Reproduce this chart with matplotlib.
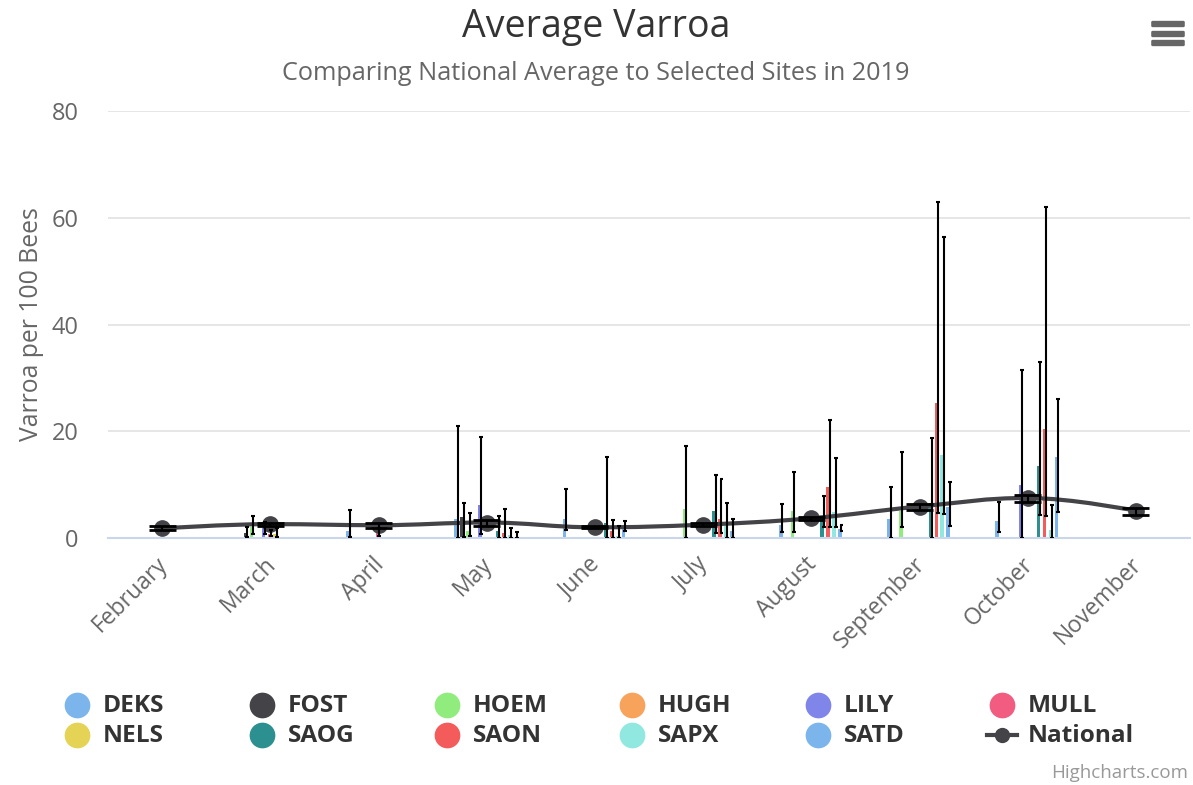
import numpy as np
import matplotlib
matplotlib.use("Agg")
import matplotlib.pyplot as plt
from matplotlib.path import Path
from matplotlib.patches import PathPatch, FancyBboxPatch
from matplotlib.lines import Line2D
from matplotlib.transforms import blended_transform_factory

plt.rcParams['font.family'] = ['Open Sans', 'DejaVu Sans']

nan = np.nan

months = ["February", "March", "April", "May", "June", "July",
          "August", "September", "October", "November"]
sites = ["DEKS", "FOST", "HOEM", "HUGH", "LILY", "MULL",
         "NELS", "SAOG", "SAON", "SAPX", "SATD"]
site_colors = ["#7cb5ec", "#434348", "#90ed7d", "#f7a35c", "#8085e9", "#f15c80",
               "#e4d354", "#2b908f", "#f45b5b", "#91e8e1", "#7cb5ec"]

# per site: average, lower and upper end of the error bar, one value per month
DEKS_avg = [nan, nan, 1.3, 3.6, 3.5, nan, 2.4, 3.6, 3.2, nan]
DEKS_lo = [nan, nan, 0.2, 0.0, 1.5, nan, 1.2, 0.0, 1.1, nan]
DEKS_hi = [nan, nan, 5.2, 21.0, 9.1, nan, 6.4, 9.5, 6.8, nan]

FOST_avg = [nan, 0.9, nan, 4.0, nan, nan, nan, nan, nan, nan]
FOST_lo = [nan, 0.25, nan, 0.25, nan, nan, nan, nan, nan, nan]
FOST_hi = [nan, 2.0, nan, 6.5, nan, nan, nan, nan, nan, nan]

HOEM_avg = [nan, 2.0, nan, 1.3, nan, 5.4, 5.0, 5.0, nan, nan]
HOEM_lo = [nan, 0.7, nan, 0.4, nan, 0.0, 1.2, 2.1, nan, nan]
HOEM_hi = [nan, 4.2, nan, 4.6, nan, 17.3, 12.4, 16.2, nan, nan]

HUGH_avg = [nan] * 10
HUGH_lo = [nan] * 10
HUGH_hi = [nan] * 10

LILY_avg = [nan, 1.8, nan, 6.2, nan, nan, nan, nan, 9.9, nan]
LILY_lo = [nan, 0.8, nan, 0.7, nan, nan, nan, nan, 0.0, nan]
LILY_hi = [nan, 3.0, nan, 18.9, nan, nan, nan, nan, 31.5, nan]

MULL_avg = [nan, 0.7, 1.0, nan, nan, nan, nan, nan, nan, nan]
MULL_lo = [nan, 0.3, 0.3, nan, nan, nan, nan, nan, nan, nan]
MULL_hi = [nan, 1.5, 1.8, nan, nan, nan, nan, nan, nan, nan]

NELS_avg = [nan, 0.7, nan, nan, nan, nan, nan, nan, nan, nan]
NELS_lo = [nan, 0.2, nan, nan, nan, nan, nan, nan, nan, nan]
NELS_hi = [nan, 1.9, nan, nan, nan, nan, nan, nan, nan, nan]

SAOG_avg = [nan, nan, nan, 1.3, 2.75, 5.1, 3.8, 6.5, 13.4, nan]
SAOG_lo = [nan, nan, nan, 0.0, 0.0, 0.9, 2.1, 0.0, 4.4, nan]
SAOG_hi = [nan, nan, nan, 4.2, 15.1, 11.8, 7.9, 18.8, 33.0, nan]

SAON_avg = [nan, nan, nan, 1.0, 1.3, 3.6, 9.6, 25.2, 20.4, nan]
SAON_lo = [nan, nan, nan, 0.0, 0.0, 0.9, 2.1, 4.7, 4.2, nan]
SAON_hi = [nan, nan, nan, 5.4, 3.4, 11.0, 22.1, 63.0, 62.0, nan]

SAPX_avg = [nan, nan, nan, 0.6, 0.3, 2.25, 4.9, 15.5, 1.5, nan]
SAPX_lo = [nan, nan, nan, 0.0, 0.0, 0.0, 2.1, 4.5, 0.0, nan]
SAPX_hi = [nan, nan, nan, 1.9, 2.3, 6.5, 15.0, 56.3, 6.2, nan]

SATD_avg = [nan, nan, nan, 0.2, 1.8, 1.4, 1.6, 5.9, 15.2, nan]
SATD_lo = [nan, nan, nan, 0.0, 1.4, 0.0, 1.4, 2.3, 4.9, nan]
SATD_hi = [nan, nan, nan, 1.2, 3.1, 3.5, 2.4, 10.5, 26.0, nan]

national_avg = [1.8, 2.6, 2.4, 2.9, 2.0, 2.5, 3.7, 5.9, 7.5, 5.1]
national_lo = [1.5, 2.2, 1.9, 2.3, 1.8, 2.2, 3.4, 5.2, 6.8, 4.3]
national_hi = [2.2, 2.9, 2.75, 3.3, 2.3, 2.8, 4.0, 6.3, 8.1, 5.7]

site_avg = [DEKS_avg, FOST_avg, HOEM_avg, HUGH_avg, LILY_avg, MULL_avg,
            NELS_avg, SAOG_avg, SAON_avg, SAPX_avg, SATD_avg]
site_lo = [DEKS_lo, FOST_lo, HOEM_lo, HUGH_lo, LILY_lo, MULL_lo,
           NELS_lo, SAOG_lo, SAON_lo, SAPX_lo, SATD_lo]
site_hi = [DEKS_hi, FOST_hi, HOEM_hi, HUGH_hi, LILY_hi, MULL_hi,
           NELS_hi, SAOG_hi, SAON_hi, SAPX_hi, SATD_hi]

W, H = 1193, 785
NAT_COLOR = "#434348"


def fx(px):
    return px / W


def fy(py):
    return 1 - py / H


def spline_path(xs, ys, smoothing=1.5):
    """highcharts style spline through the points, as bezier segments"""
    denom = smoothing + 1
    n = len(xs)
    right = [None] * n
    verts = [(xs[0], ys[0])]
    codes = [Path.MOVETO]
    for i in range(1, n):
        px, py = xs[i], ys[i]
        lx, ly = xs[i - 1], ys[i - 1]
        if i < n - 1:
            nx, ny = xs[i + 1], ys[i + 1]
            lcx = (smoothing * px + lx) / denom
            lcy = (smoothing * py + ly) / denom
            rcx = (smoothing * px + nx) / denom
            rcy = (smoothing * py + ny) / denom
            corr = ((rcy - lcy) * (rcx - px)) / (rcx - lcx) + py - rcy
            lcy += corr
            rcy += corr
            if lcy > ly and lcy > py:
                lcy = max(ly, py)
                rcy = 2 * py - lcy
            elif lcy < ly and lcy < py:
                lcy = min(ly, py)
                rcy = 2 * py - lcy
            if rcy > ny and rcy > py:
                rcy = max(ny, py)
                lcy = 2 * py - rcy
            elif rcy < ny and rcy < py:
                rcy = min(ny, py)
                lcy = 2 * py - rcy
            right[i] = (rcx, rcy)
        else:
            lcx, lcy = px, py
        c1 = right[i - 1] if right[i - 1] is not None else (lx, ly)
        verts += [c1, (lcx, lcy), (px, py)]
        codes += [Path.CURVE4] * 3
    return Path(verts, codes)


fig = plt.figure(figsize=(W / 100, H / 100), dpi=100)
ax = fig.add_axes([fx(108), fy(538), fx(1190 - 108), (538 - 111) / H])

ax.set_xlim(-0.5, 9.5)
ax.set_ylim(0, 80)
ax.set_yticks([0, 20, 40, 60, 80])
ax.grid(axis='y', color='#e6e6e6', lw=1.4)
ax.set_axisbelow(True)
for s in ['top', 'right', 'left']:
    ax.spines[s].set_visible(False)
ax.spines['bottom'].set_color('#ccd6eb')
ax.spines['bottom'].set_linewidth(1.5)
ax.tick_params(axis='y', length=0, pad=21, labelsize=17, labelcolor='#666666')
ax.set_xticks([])

# month labels, rotated
lab_tr = blended_transform_factory(ax.transData, fig.transFigure)
for i, m in enumerate(months):
    ax.text(i + 0.02, fy(561), m, transform=lab_tr, rotation=45, rotation_mode='anchor',
            ha='right', va='center', fontsize=16.5, color='#666666', clip_on=False)

# site columns with error bars
xs = np.arange(len(months))
slot = 0.6 / len(sites)
cap = 0.018
for i, name in enumerate(sites):
    off = -0.3 + (i + 0.5) * slot
    vals = np.array(site_avg[i], dtype=float)
    lo = np.array(site_lo[i], dtype=float)
    hi = np.array(site_hi[i], dtype=float)
    ok = ~np.isnan(vals)
    if not ok.any():
        continue
    ax.bar(xs[ok] + off - 0.009, vals[ok], width=0.032, color=site_colors[i], zorder=2)
    ex = xs[ok] + off + 0.006
    ax.vlines(ex, lo[ok], hi[ok], color='black', lw=1.5, zorder=5)
    ax.hlines(lo[ok], ex - cap, ex + cap, color='black', lw=1.5, zorder=5)
    ax.hlines(hi[ok], ex - cap, ex + cap, color='black', lw=1.5, zorder=5)

# national average spline
nat = np.array(national_avg, dtype=float)
ax.add_patch(PathPatch(spline_path(xs.astype(float), nat), fill=False,
                       edgecolor=NAT_COLOR, lw=3, zorder=3, capstyle='round'))
ax.plot(xs, nat, 'o', ms=11, color=NAT_COLOR, zorder=4)
ax.vlines(xs, national_lo, national_hi, color='black', lw=1.5, zorder=6)
ax.hlines(national_lo, xs - 0.125, xs + 0.125, color='black', lw=2, zorder=6)
ax.hlines(national_hi, xs - 0.125, xs + 0.125, color='black', lw=2, zorder=6)

# titles
fig.text(fx(596), fy(27), "Average Varroa", ha='center', va='center',
         fontsize=27, color='#333333')
fig.text(fx(596), fy(73), "Comparing National Average to Selected Sites in 2019",
         ha='center', va='center', fontsize=18.2, color='#666666')
fig.text(fx(32), fy(324), "Varroa per 100 Bees", rotation=90, ha='center',
         va='center', fontsize=17.8, color='#666666')
fig.text(fx(1188), fy(773), "Highcharts.com", ha='right', va='center',
         fontsize=13.5, color='#999999')

# menu button
for yy in [24, 34, 43]:
    fig.add_artist(FancyBboxPatch((fx(1153), fy(yy + 2)), fx(30), 4 / H,
                                  boxstyle="round,pad=0.0015", transform=fig.transFigure,
                                  facecolor='#666666', edgecolor='none'))

# legend
col_x = [77, 262, 447, 632, 818, 1002]
row_y = [705, 735]
for i, name in enumerate(sites):
    cx = col_x[i % 6]
    cy = row_y[i // 6]
    fig.add_artist(Line2D([fx(cx)], [fy(cy)], marker='o', ms=17.5, color=site_colors[i],
                          lw=0, transform=fig.transFigure))
    fig.text(fx(cx + 26), fy(cy + 1), name, ha='left', va='center', fontsize=17.6,
             fontweight='bold', color='#333333')
cx, cy = col_x[5], row_y[1]
fig.add_artist(Line2D([fx(cx - 15), fx(cx + 15)], [fy(cy), fy(cy)], color=NAT_COLOR,
                      lw=3, transform=fig.transFigure))
fig.add_artist(Line2D([fx(cx)], [fy(cy)], marker='o', ms=10, color=NAT_COLOR,
                      lw=0, transform=fig.transFigure))
fig.text(fx(cx + 26), fy(cy + 1), "National", ha='left', va='center', fontsize=17.6,
         fontweight='bold', color='#333333')

fig.savefig("out.png", dpi=100)
